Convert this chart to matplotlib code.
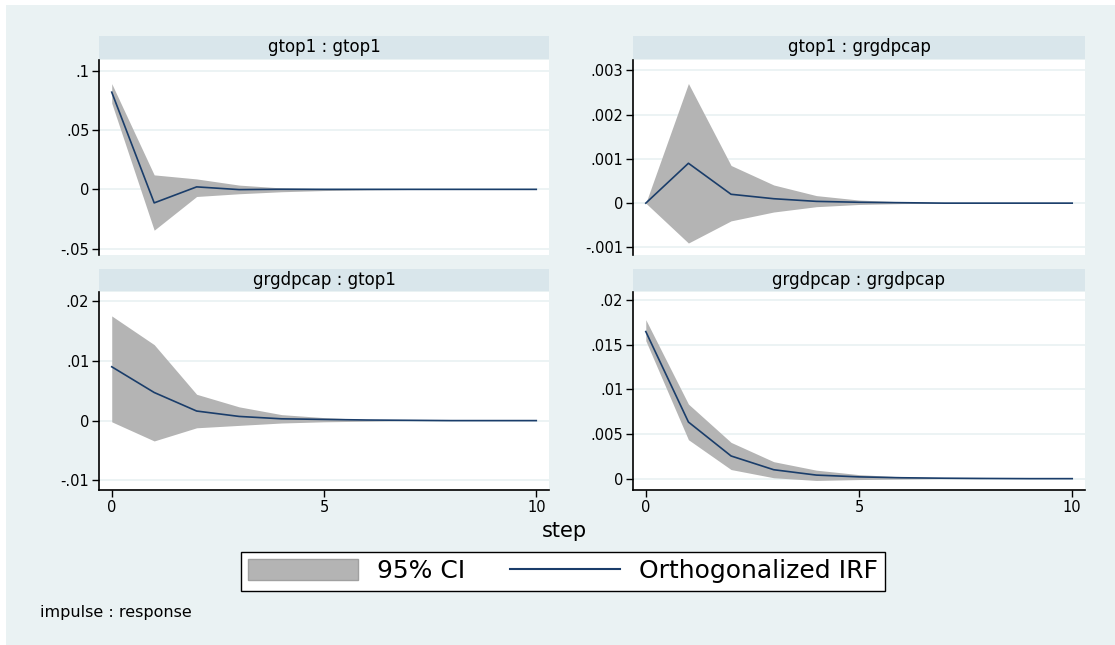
import matplotlib
matplotlib.use("Agg")
import matplotlib.pyplot as plt
from matplotlib.patches import Rectangle, Patch
from matplotlib.lines import Line2D
from matplotlib.ticker import FixedLocator, FuncFormatter

# ---- data ----
steps = [0, 1, 2, 3, 4, 5, 6, 7, 8, 9, 10]

titles = ["gtop1 : gtop1", "gtop1 : grgdpcap", "grgdpcap : gtop1", "grgdpcap : grgdpcap"]

irf_11 = [0.0819, -0.0114, 0.0021, -0.0002, 0.0001, 0.0, 0.0, 0.0, 0.0, 0.0, 0.0]
lo_11 = [0.0727, -0.0344, -0.0060, -0.0037, -0.0020, -0.0010, -0.0004, -0.0001, 0.0, 0.0, 0.0]
hi_11 = [0.0891, 0.0122, 0.0088, 0.0036, 0.0012, 0.0006, 0.0002, 0.0001, 0.0, 0.0, 0.0]

irf_12 = [0.0, 0.0009, 0.0002, 0.0001, 0.00004, 0.00002, 0.00001, 0.0, 0.0, 0.0, 0.0]
lo_12 = [0.0, -0.0009, -0.0004, -0.0002, -0.00008, -0.00003, -0.00001, 0.0, 0.0, 0.0, 0.0]
hi_12 = [0.0, 0.0027, 0.00085, 0.00041, 0.00017, 0.00007, 0.00003, 0.00001, 0.0, 0.0, 0.0]

irf_21 = [0.0090, 0.0047, 0.0016, 0.0007, 0.0003, 0.0002, 0.0001, 0.00005, 0.0, 0.0, 0.0]
lo_21 = [-0.0002, -0.0034, -0.0012, -0.0008, -0.0004, -0.0002, -0.0001, 0.0, 0.0, 0.0, 0.0]
hi_21 = [0.0175, 0.0127, 0.0044, 0.0023, 0.0010, 0.0005, 0.0002, 0.0001, 0.0, 0.0, 0.0]

irf_22 = [0.01647, 0.00634, 0.00254, 0.0010, 0.0004, 0.0002, 0.0001, 0.00005, 0.00002, 0.0, 0.0]
lo_22 = [0.01545, 0.00436, 0.00102, 0.0001, -0.0002, -0.0001, -0.00005, 0.0, 0.0, 0.0, 0.0]
hi_22 = [0.0178, 0.00835, 0.00406, 0.0019, 0.00095, 0.00045, 0.0002, 0.0001, 0.0, 0.0, 0.0]

yticks_11 = [-0.05, 0, 0.05, 0.1]
yticks_12 = [-0.001, 0, 0.001, 0.002, 0.003]
yticks_21 = [-0.01, 0, 0.01, 0.02]
yticks_22 = [0, 0.005, 0.01, 0.015, 0.02]
xticks = [0, 5, 10]

# ---- style ----
BG = "#EAF2F3"
STRIP = "#D9E6EB"
CI_COL = "#B4B4B4"
LINE_COL = "#1A3D6A"

W, H = 1115, 645
fig = plt.figure(figsize=(W / 100, H / 100), dpi=100)
fig.patch.set_facecolor("white")
fig.patches.append(Rectangle((6 / W, 0), 1 - 6 / W, 1 - 5 / H, transform=fig.transFigure,
                             facecolor=BG, edgecolor="none", zorder=-10))


def stata_fmt(v, pos=None):
    if abs(v) < 1e-12:
        return "0"
    s = f"{v:g}"
    return s.replace("-0.", "-.").replace("0.", ".")


def px_box(x0, y0, x1, y1):
    return [x0 / W, 1 - y1 / H, (x1 - x0) / W, (y1 - y0) / H]


panels = [
    (titles[0], irf_11, lo_11, hi_11, yticks_11, (-0.0553, 0.109), (99, 549), (36, 59, 60, 255), False),
    (titles[1], irf_12, lo_12, hi_12, yticks_12, (-0.00117, 0.00323), (633, 1085), (36, 59, 60, 255), False),
    (titles[2], irf_21, lo_21, hi_21, yticks_21, (-0.0116, 0.0215), (99, 549), (269, 291, 292, 490), True),
    (titles[3], irf_22, lo_22, hi_22, yticks_22, (-0.00127, 0.0209), (633, 1085), (269, 291, 292, 490), True),
]

for title, irf, lo, hi, yt, ylim, (x0, x1), (s0, s1, p0, p1), show_x in panels:
    # strip title
    sax = fig.add_axes(px_box(x0, s0, x1, s1))
    sax.set_facecolor(STRIP)
    sax.set_xticks([])
    sax.set_yticks([])
    for sp in sax.spines.values():
        sp.set_visible(False)
    sax.text(0.5, 0.5, title, ha="center", va="center", fontsize=12, transform=sax.transAxes)

    ax = fig.add_axes(px_box(x0, p0, x1, p1))
    ax.set_facecolor("white")
    ax.fill_between(steps, lo, hi, color=CI_COL, linewidth=0, zorder=2)
    ax.plot(steps, irf, color=LINE_COL, linewidth=1.2, zorder=3)
    ax.set_xlim(-0.3, 10.3)
    ax.set_ylim(*ylim)
    ax.yaxis.set_major_locator(FixedLocator(yt))
    ax.yaxis.set_major_formatter(FuncFormatter(stata_fmt))
    ax.grid(axis="y", color=BG, linewidth=1.3, zorder=1)
    ax.set_axisbelow(True)
    for side in ["top", "right"]:
        ax.spines[side].set_visible(False)
    ax.spines["left"].set_linewidth(1.2)
    ax.tick_params(axis="y", length=5, width=1, pad=2, labelsize=10.5)
    if show_x:
        ax.set_xticks(xticks)
        ax.spines["bottom"].set_linewidth(1.2)
        ax.tick_params(axis="x", length=5, width=1, pad=2, labelsize=10.5)
    else:
        ax.spines["bottom"].set_visible(False)
        ax.set_xticks([])

fig.text(564 / W, 1 - 531 / H, "step", ha="center", va="center", fontsize=15)
fig.text(40 / W, 1 - 612 / H, "impulse : response", ha="left", va="center", fontsize=11.5)

handles = [Patch(facecolor=CI_COL, edgecolor="#A0A0A0", linewidth=1),
           Line2D([], [], color=LINE_COL, linewidth=1.5)]
leg = fig.legend(handles, ["95% CI", "Orthogonalized IRF"], loc="center",
                 bbox_to_anchor=(563 / W, 1 - 571 / H), ncol=2, fontsize=18,
                 frameon=True, fancybox=False, edgecolor="black", framealpha=1,
                 handlelength=4.4, handleheight=0.9, handletextpad=0.75,
                 columnspacing=1.8, borderpad=0.3)
leg.get_frame().set_linewidth(1.0)

fig.savefig("out.png", dpi=100, facecolor=fig.get_facecolor())
